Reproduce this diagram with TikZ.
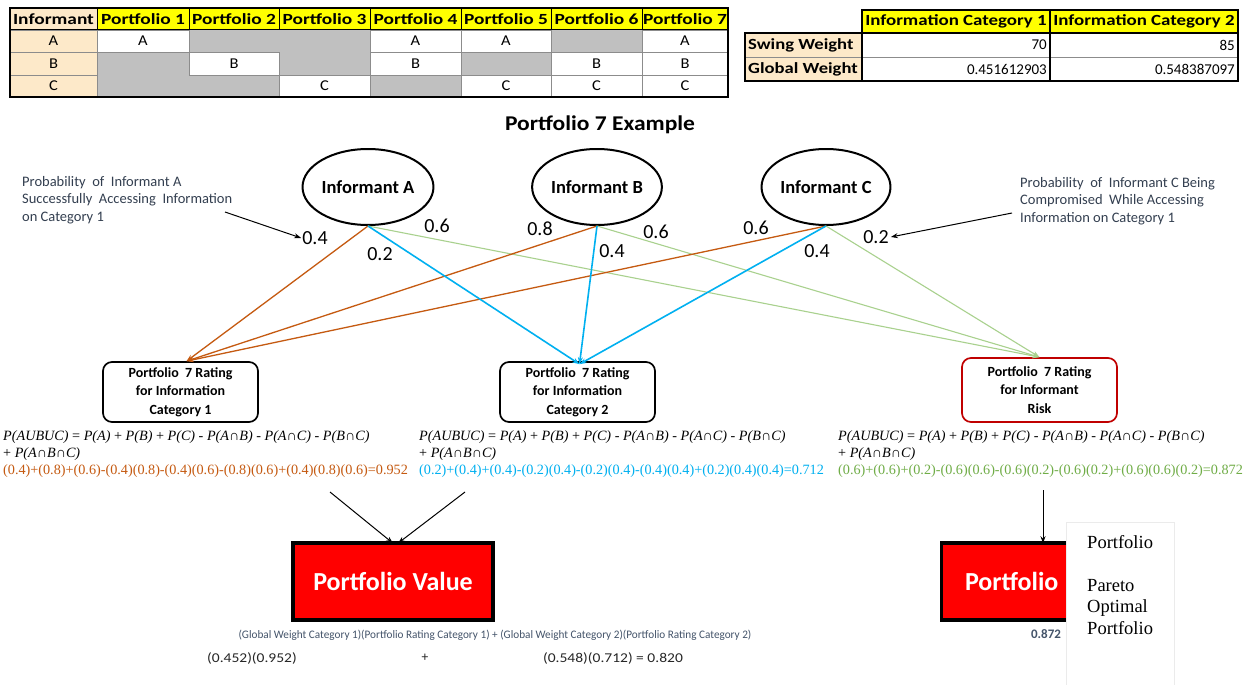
\documentclass[tikz,border=0pt]{standalone}
\usepackage{fontspec}
\usepackage{graphicx}
\setmainfont{Carlito}
\newfontfamily\tms{Liberation Serif}
\usetikzlibrary{arrows.meta,shapes.geometric}
\definecolor{ora}{HTML}{C55A11}
\definecolor{blu}{HTML}{00B0F0}
\definecolor{grn}{HTML}{A9D18E}
\definecolor{grntxt}{HTML}{70AD47}
\definecolor{peach}{HTML}{FDE9C9}
\definecolor{yel}{HTML}{FFFF00}
\definecolor{cellgrey}{HTML}{C0C0C0}
\definecolor{dred}{HTML}{C00000}
\definecolor{slate}{HTML}{44546A}
\definecolor{annot}{HTML}{333F50}
\definecolor{gline}{HTML}{8C8C8C}
\newcommand\fsz[2]{\fontsize{#1}{#2}\selectfont}
\newcommand\sx[2]{\scalebox{#1}[1]{#2}}
\newcommand\formAll{\textit{P(AUBUC)} = \textit{P(A)} + \textit{P(B)} + \textit{P(C)} - \textit{P(A∩B)} - \textit{P(A∩C)} - \textit{P(B∩C)}\\+ \textit{P(A∩B∩C)}}
\tikzset{
  hdr/.style={font=\bfseries\fsz{15.5}{18}, inner sep=0pt},
  cellt/.style={font=\fsz{15}{18}, inner sep=0pt},
  ell/.style={ellipse, draw, line width=2pt, minimum width=124pt, minimum height=76pt, font=\bfseries\fsz{18.5}{20}, inner sep=0pt},
  rbox/.style={rectangle, rounded corners=9pt, draw, line width=1.7pt, minimum width=155pt, minimum height=60pt, align=center, font=\bfseries\fsz{14}{18.5}, inner sep=0pt},
  prob/.style={font=\fsz{20}{22}, inner sep=0pt},
  annott/.style={font=\fsz{14.5}{17.5}, text=annot, align=left, inner sep=0pt},
  formt/.style={font=\tms\fsz{14.2}{17}, align=left, inner sep=0pt, anchor=north west},
  oline/.style={draw=ora, line width=1.3pt, -{Stealth[length=7pt,width=5pt]}},
  bline/.style={draw=blu, line width=1.6pt, -{Stealth[length=7pt,width=5pt]}},
  gline2/.style={draw=grn, line width=1.1pt, -{Stealth[length=7pt,width=5pt]}},
  blk/.style={draw=black, line width=1pt, -{Stealth[length=7pt,width=5pt]}},
  redbox/.style={rectangle, fill=red, draw=black, line width=3.5pt, minimum height=77pt, font=\bfseries\fsz{26}{28}, text=white, inner sep=0pt},
}
\begin{document}
\begin{tikzpicture}[x=1pt,y=-1pt]
\useasboundingbox (0,0) rectangle (1247,685);
\fill[white] (0,0) rectangle (1247,685);
% ---------- Table 1 ----------
\fill[peach] (10,8) rectangle (97,97);
\fill[yel] (97,8) rectangle (728,30);
\fill[cellgrey] (97,52) rectangle (189,97);
\fill[cellgrey] (189,30) rectangle (279,52);
\fill[cellgrey] (189,75) rectangle (279,97);
\fill[cellgrey] (279,30) rectangle (370,75);
\fill[cellgrey] (370,75) rectangle (461,97);
\fill[cellgrey] (461,52) rectangle (551,75);
\fill[cellgrey] (551,30) rectangle (642,52);
\foreach \a/\b/\c/\d/\t [count=\i] in {97/30/189/52/A,189/52/279/75/B,279/75/370/97/C,370/30/461/52/A,370/52/461/75/B,461/30/551/52/A,461/75/551/97/C,551/52/642/75/B,551/75/642/97/C,642/30/728/52/A,642/52/728/75/B,642/75/728/97/C}{
  \fill[white] (\a,\b) rectangle (\c,\d);
  \draw[gline, line width=0.8pt] (\a,\b) rectangle (\c,\d);
  \node[cellt] (tc\i) at ({(\a+\c)/2},{(\b+\d)/2}) {\sx{1.1}{\t}};
}
\foreach \b/\d/\t [count=\i] in {30/52/A,52/75/B,75/97/C}{
  \draw[gline, line width=0.8pt] (10,\b) rectangle (97,\d);
  \node[cellt] (ti\i) at (53.5,{(\b+\d)/2}) {\sx{1.1}{\t}};
}
\foreach \a/\c/\t [count=\i] in {10/97/Informant,97/189/Portfolio 1,189/279/Portfolio 2,279/370/Portfolio 3,370/461/Portfolio 4,461/551/Portfolio 5,551/642/Portfolio 6,642/728/Portfolio 7}{
  \draw[black, line width=1pt] (\a,8) rectangle (\c,30);
  \node[hdr] (th\i) at ({(\a+\c)/2},19.5) {\sx{1.25}{\t}};
}
\draw[black, line width=1.3pt] (10,8) rectangle (728,97);
% ---------- Table 2 ----------
\fill[yel] (862,10) rectangle (1238,33);
\fill[peach] (745,33) rectangle (862,81);
\draw[gline, line width=0.8pt] (745,57) -- (1238,57);
\draw[black, line width=1.3pt] (862,10) rectangle (1050,33);
\draw[black, line width=1.3pt] (1050,10) rectangle (1238,33);
\draw[black, line width=1.3pt] (745,33) rectangle (1238,81);
\draw[black, line width=1.3pt] (862,33) -- (862,81);
\draw[black, line width=1.3pt] (1050,33) -- (1050,81);
\node[hdr] (u1) at (956,21.5) {\sx{1.22}{Information Category 1}};
\node[hdr] (u2) at (1144,21.5) {\sx{1.22}{Information Category 2}};
\node[hdr, anchor=west] (u3) at (748,45) {\sx{1.2}{Swing Weight}};
\node[hdr, anchor=west] (u4) at (748,69) {\sx{1.2}{Global Weight}};
\node[cellt, anchor=east] (u5) at (1047,45) {70};
\node[cellt, anchor=east] (u6) at (1235,45) {85};
\node[cellt, anchor=east] (u7) at (1047,69) {0.451612903};
\node[cellt, anchor=east] (u8) at (1235,69) {0.548387097};
% ---------- Title ----------
\node[font=\bfseries\fsz{21}{24}, inner sep=0pt] (title) at (600,125) {\sx{1.12}{Portfolio 7 Example}};
% ---------- Informants ----------
\node[ell] (iA) at (368,187) {Informant A};
\node[ell] (iB) at (597,187) {Informant B};
\node[ell] (iC) at (826,187) {Informant C};
% ---------- Rating boxes ----------
\node[rbox] (r1) at (180.5,392) {Portfolio\ \ 7 Rating\\for Information\\Category 1};
\node[rbox] (r2) at (577.5,392) {Portfolio\ \ 7 Rating\\for Information\\Category 2};
\node[rbox, draw=dred, minimum height=64pt] (r3) at (1039.5,390) {Portfolio\ \ 7 Rating\\for Informant\\Risk};
% ---------- connectors ----------
\draw[gline2] (iA.south) -- (r3.north);
\draw[gline2] (iB.south) -- (r3.north);
\draw[gline2] (iC.south) -- (r3.north);
\draw[oline] (iA.south) -- ([xshift=6pt]r1.north);
\draw[oline] (iB.south) -- ([xshift=6pt]r1.north);
\draw[oline] (iC.south) -- ([xshift=6pt]r1.north);
\draw[bline] (iA.south) -- ([xshift=2pt,yshift=-3pt]r2.north);
\draw[bline] (iB.south) -- ([xshift=2pt,yshift=-3pt]r2.north);
\draw[bline] (iC.south) -- ([xshift=2pt,yshift=-3pt]r2.north);
% ---------- probabilities ----------
\node[prob] (pA1) at (315,238) {0.4};
\node[prob] (pA2) at (380,254) {0.2};
\node[prob] (pA3) at (437,226) {0.6};
\node[prob] (pB1) at (540,229) {0.8};
\node[prob] (pB2) at (612,251) {0.4};
\node[prob] (pB3) at (656,232) {0.6};
\node[prob] (pC1) at (756,228) {0.6};
\node[prob] (pC2) at (817,251) {0.4};
\node[prob] (pC3) at (876,237) {0.2};
% ---------- annotations ----------
\node[annott, anchor=west] (annL) at (22,200) {Probability\ \ of\ \ Informant A\\Successfully\ \ Accessing\ \ Information\\on Category 1};
\node[annott, anchor=west] (annR) at (1020,201) {Probability\ \ of\ \ Informant C Being\\Compromised\ \ While Accessing\\Information on Category 1};
\coordinate (aL) at (225,212);
\coordinate (aR) at (1012,213);
\draw[blk] (aL) -- ([xshift=-1pt]pA1.west);
\draw[blk] (aR) -- ([xshift=2pt]pC3.east);
% ---------- formulas ----------
\node[formt] (f1) at (3,430) {\formAll\\\textcolor{ora}{(0.4)+(0.8)+(0.6)-(0.4)(0.8)-(0.4)(0.6)-(0.8)(0.6)+(0.4)(0.8)(0.6)=0.952}};
\node[formt] (f2) at (419,430) {\formAll\\\textcolor{blu}{(0.2)+(0.4)+(0.4)-(0.2)(0.4)-(0.2)(0.4)-(0.4)(0.4)+(0.2)(0.4)(0.4)=0.712}};
\node[formt] (f3) at (838,430) {\formAll\\\textcolor{grntxt}{(0.6)+(0.6)+(0.2)-(0.6)(0.6)-(0.6)(0.2)-(0.6)(0.2)+(0.6)(0.6)(0.2)=0.872}};
% ---------- value boxes ----------
\node[redbox, minimum width=200pt] (pv) at (393,581.5) {Portfolio Value};
\node[redbox, minimum width=203pt, text width=156pt, align=left] (pr) at (1043,581.5) {Portfolio};
\coordinate (s1) at (330,492);
\coordinate (s2) at (465,492);
\coordinate (s3) at (1043,490);
\draw[blk] (s1) -- ([yshift=-2pt]pv.north);
\draw[blk] (s2) -- ([xshift=5pt,yshift=-2pt]pv.north);
\draw[blk] (s3) -- ([yshift=-2pt]pr.north);
% ---------- pareto note ----------
\draw[draw=black!8, fill=white, line width=0.8pt] (1066,522) rectangle (1174,690);
\node[font=\tms\fsz{18.5}{21.5}, anchor=north west, align=left, inner sep=0pt] (pareto) at (1087,535) {Portfolio\\[21.5pt]Pareto\\Optimal\\Portfolio};
\node[font=\bfseries\fsz{13}{14}, text=slate, inner sep=0pt] (risk) at (1046,634) {0.872};
% ---------- bottom text ----------
\node[font=\fsz{11.5}{13}, text=slate, inner sep=0pt] (bt1) at (495,635) {\sx{0.975}{(Global Weight Category 1)(Portfolio Rating Category 1) + (Global Weight Category 2)(Portfolio Rating Category 2)}};
\node[font=\fsz{13.5}{15}, text=black!85, inner sep=0pt] (bt2) at (252,658) {\sx{1.15}{(0.452)(0.952)}};
\node[font=\fsz{13.5}{15}, text=black!85, inner sep=0pt] (bt3) at (425,658) {+};
\node[font=\fsz{13.5}{15}, text=black!85, inner sep=0pt] (bt4) at (613,658) {\sx{1.15}{(0.548)(0.712) = 0.820}};
\end{tikzpicture}
\end{document}
